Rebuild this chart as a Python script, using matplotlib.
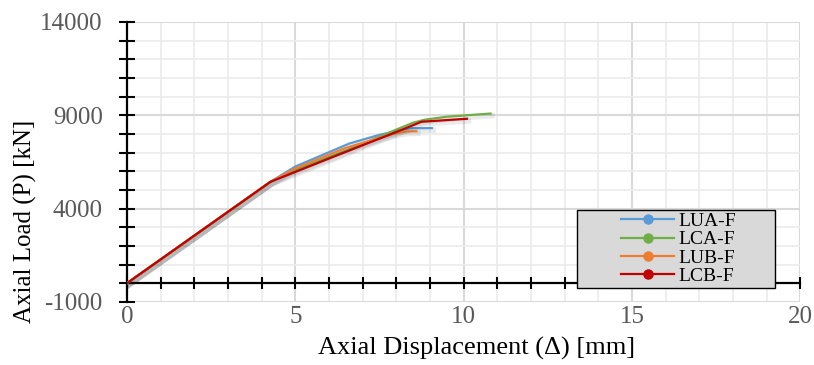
import numpy as np
import matplotlib
matplotlib.use('Agg')
import matplotlib.pyplot as plt
import matplotlib.patheffects as pe
from matplotlib.lines import Line2D
from matplotlib.patches import Rectangle
from matplotlib.ticker import MultipleLocator

plt.rcParams['font.family'] = ['Liberation Serif', 'DejaVu Serif']
plt.rcParams['axes.unicode_minus'] = False

# load-displacement curves
lua_x = [0, 4.26, 5.0, 6.6, 7.5, 8.4, 9.06]
lua_y = [0, 5430, 6250, 7480, 7950, 8300, 8310]

lca_x = [0, 4.26, 5.0, 6.5, 7.5, 8.0, 8.5, 8.85, 9.5, 10.8]
lca_y = [0, 5430, 6050, 7100, 7850, 8230, 8600, 8760, 8920, 9090]

lub_x = [0, 4.26, 5.0, 6.5, 7.9, 8.3, 8.6]
lub_y = [0, 5430, 6150, 7250, 8000, 8130, 8140]

lcb_x = [0, 4.26, 6.0, 8.0, 8.75, 10.1]
lcb_y = [0, 5430, 6680, 8100, 8650, 8810]

labels = ['LUA-F', 'LCA-F', 'LUB-F', 'LCB-F']
colors = ['#5b9bd5', '#70ad47', '#ed7d31', '#c00000']
x_ticks = [0, 5, 10, 15, 20]
y_ticks = [-1000, 4000, 9000, 14000]

fig = plt.figure(figsize=(8.14, 3.65), dpi=100)
ax = fig.add_axes([0.156, 0.173, 0.827, 0.767])

shadow = [pe.SimpleLineShadow(offset=(1, -1.5), shadow_color='k', alpha=0.08, linewidth=4),
          pe.Normal()]
series = [(lua_x, lua_y), (lca_x, lca_y), (lub_x, lub_y), (lcb_x, lcb_y)]
for (xs, ys), c in zip(series, colors):
    ax.plot(xs, ys, color=c, lw=1.6, path_effects=shadow, zorder=3)

ax.set_xlim(0, 20)
ax.set_ylim(-1000, 14000)
ax.set_xticks(x_ticks)
ax.xaxis.set_minor_locator(MultipleLocator(1))
ax.set_yticks(y_ticks)
ax.yaxis.set_minor_locator(MultipleLocator(1000))

ax.grid(True, which='major', color='#d9d9d9', lw=1.5)
ax.grid(True, which='minor', color='#ebebeb', lw=1.2)
ax.set_axisbelow(True)

for s in ['top', 'right']:
    ax.spines[s].set_visible(False)
ax.spines['left'].set_linewidth(1.6)
ax.spines['bottom'].set_linewidth(1.6)
ax.spines['bottom'].set_position(('data', 0))
ax.tick_params(axis='y', which='both', direction='inout', length=11, width=1.5,
               labelsize=18, labelcolor='#595959', pad=12)
ax.tick_params(axis='x', which='both', direction='inout', length=9, width=1.5,
               labelbottom=False)

# tick labels along the bottom edge
sec = ax.secondary_xaxis('bottom')
sec.spines['bottom'].set_visible(False)
sec.set_xticks(x_ticks)
sec.tick_params(length=0, labelsize=18, labelcolor='#595959', pad=3)

ax.set_xlabel('Axial Displacement (Δ) [mm]', fontsize=19)
ax.xaxis.set_label_coords(0.519, -0.125)
ax.set_ylabel('Axial Load (P) [kN]', fontsize=18)
ax.yaxis.set_label_coords(-0.134, 0.286)

ax.add_patch(Rectangle((0.669, 0.05), 0.294, 0.279, transform=ax.transAxes,
                       facecolor='#d9d9d9', edgecolor='black', lw=1, zorder=4))
handles = [Line2D([], [], color=c, lw=1.6, marker='o', ms=6.5) for c in colors]
leg = ax.legend(handles, labels, loc='center', bbox_to_anchor=(0.82, 0.19),
                frameon=False, fontsize=14, handlelength=2.7,
                labelspacing=0.03, handletextpad=0.25)
leg.set_zorder(5)

fig.savefig('out.png', dpi=100)
